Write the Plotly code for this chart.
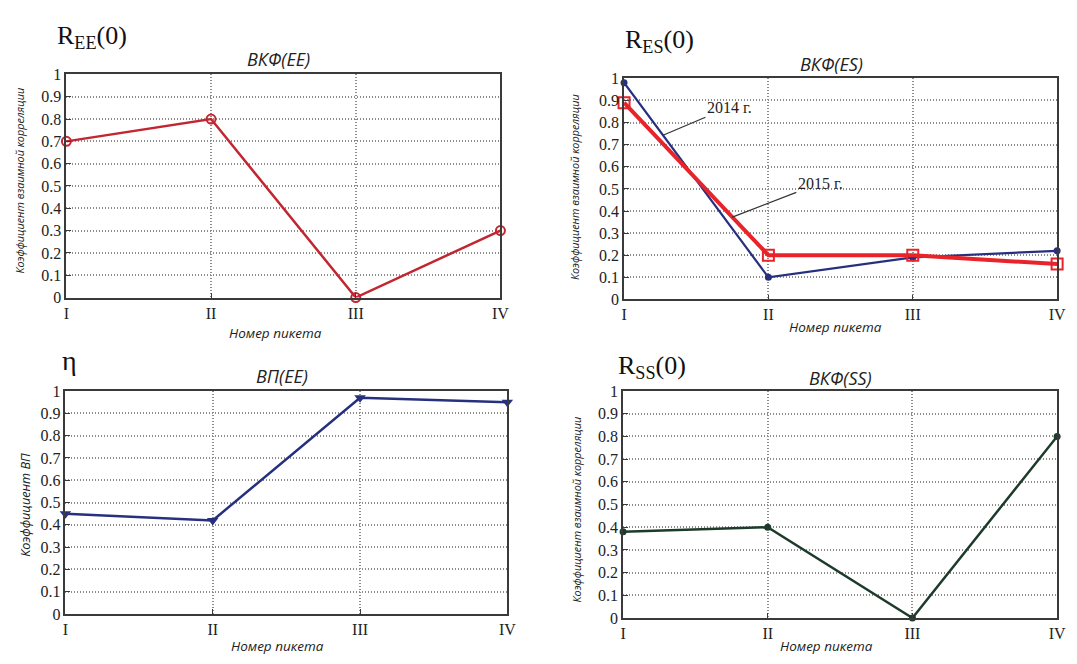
import plotly.graph_objects as go

# ---- data ----
pickets = [1, 2, 3, 4]
picket_labels = ["I", "II", "III", "IV"]
y_ticks = [0, 0.1, 0.2, 0.3, 0.4, 0.5, 0.6, 0.7, 0.8, 0.9, 1]
y_tick_labels = ["0", "0.1", "0.2", "0.3", "0.4", "0.5", "0.6", "0.7", "0.8", "0.9", "1"]

r_ee = [0.70, 0.80, 0.00, 0.30]
r_es_2014 = [0.98, 0.10, 0.19, 0.22]
r_es_2015 = [0.89, 0.20, 0.20, 0.16]
vp_ee = [0.45, 0.42, 0.97, 0.95]
r_ss = [0.38, 0.40, 0.00, 0.80]

# page body has an 8px margin: the figure is drawn 8px right/down of the window corner
OFF = 8
W, H = 1077 - OFF, 664 - OFF


def px(x):
    return (x - OFF) / W


def py(y):
    return 1 - (y - OFF) / H


fig = go.Figure()

# panel domains (window pixel based)
panels = {
    "1": dict(x=(64, 503), y=(68, 297)),
    "2": dict(x=(628, 1066), y=(72, 299)),
    "3": dict(x=(63, 510), y=(393, 622)),
    "4": dict(x=(627, 1066), y=(393, 626)),
}

axis_common = dict(
    showline=True, mirror=True, linecolor="#3a3a3a", linewidth=1.6,
    ticks="inside", ticklen=5, tickcolor="#3a3a3a",
    showgrid=True, gridcolor="#8c8c8c", griddash="1px,2px", gridwidth=1.5,
    zeroline=False, ticklabeloverflow="allow",
    tickfont=dict(family="Liberation Serif", size=16, color="#222222"),
)

layout = {}
for k, p in panels.items():
    suffix = "" if k == "1" else k
    layout["xaxis" + suffix] = dict(
        axis_common,
        domain=[px(p["x"][0]), px(p["x"][1])],
        range=[1, 4], tickvals=pickets, ticktext=picket_labels,
        anchor="y" + suffix,
    )
    layout["yaxis" + suffix] = dict(
        axis_common,
        domain=[py(p["y"][1]), py(p["y"][0])],
        range=[0, 1], tickvals=y_ticks, ticktext=y_tick_labels,
        anchor="x" + suffix,
    )

red = "#c22631"
bright_red = "#e8232a"
navy = "#27307e"
green = "#1d3b2a"

fig.add_trace(go.Scatter(
    x=pickets, y=r_ee, mode="lines+markers", xaxis="x", yaxis="y",
    line=dict(color=red, width=2.5),
    marker=dict(symbol="circle-open", size=9, color=red, line=dict(width=2)),
    cliponaxis=False, showlegend=False))

fig.add_trace(go.Scatter(
    x=pickets, y=r_es_2014, mode="lines+markers", xaxis="x2", yaxis="y2",
    line=dict(color=navy, width=2.2),
    marker=dict(symbol="circle", size=7, color=navy),
    cliponaxis=False, showlegend=False))
fig.add_trace(go.Scatter(
    x=pickets, y=r_es_2015, mode="lines+markers", xaxis="x2", yaxis="y2",
    line=dict(color=bright_red, width=4),
    marker=dict(symbol="square-open", size=11, color=bright_red, line=dict(width=2)),
    cliponaxis=False, showlegend=False))

fig.add_trace(go.Scatter(
    x=pickets, y=vp_ee, mode="lines+markers", xaxis="x3", yaxis="y3",
    line=dict(color=navy, width=2.5),
    marker=dict(symbol="triangle-down", size=10, color=navy),
    cliponaxis=False, showlegend=False))

fig.add_trace(go.Scatter(
    x=pickets, y=r_ss, mode="lines+markers", xaxis="x4", yaxis="y4",
    line=dict(color=green, width=2.5),
    marker=dict(symbol="circle", size=7, color=green),
    cliponaxis=False, showlegend=False))

ann = []


def text(x, y, s, size, family, color="#222", angle=0):
    ann.append(dict(x=px(x), y=py(y), xref="paper", yref="paper", text=s,
                    showarrow=False, textangle=angle,
                    font=dict(size=size, family=family, color=color),
                    xanchor="center", yanchor="middle"))


sans = "Open Sans"
serif = "Liberation Serif"

# titles
text(279, 52, "<i>ВКФ(EE)</i>", 18, sans)
text(838, 57, "<i>ВКФ(ES)</i>", 18, sans)
text(282, 378, "<i>ВП(EE)</i>", 18, sans)
text(847, 380, "<i>ВКФ(SS)</i>", 18, sans)

# big labels
text(90, 30, "R<sub>EE</sub>(0)", 26, serif, "#111")
text(664, 34, "R<sub>ES</sub>(0)", 26, serif, "#111")
text(67, 362, "η", 28, serif, "#111")
text(656, 368, "R<sub>SS</sub>(0)", 26, serif, "#111")

# x axis titles
text(276, 333, "<i>Номер пикета</i>", 13.5, sans)
text(842, 327, "<i>Номер пикета</i>", 13.5, sans)
text(278, 655, "<i>Номер пикета</i>", 13.5, sans)
text(833, 655, "<i>Номер пикета</i>", 13.5, sans)

# y axis titles
text(17, 177, "<i>Коэффициент взаимной корреляции</i>", 10.8, sans, angle=-90)
text(578, 184, "<i>Коэффициент взаимной корреляции</i>", 10.8, sans, angle=-90)
text(22, 510, "<i>Коэффициент ВП</i>", 12.7, sans, angle=-90)
text(580, 515, "<i>Коэффициент взаимной корреляции</i>", 10.8, sans, angle=-90)

# series callouts
x14 = 1.27
ann.append(dict(x=x14, y=r_es_2014[0] + (r_es_2014[1] - r_es_2014[0]) * (x14 - 1),
                xref="x2", yref="y2", text="2014 г.", showarrow=True,
                arrowhead=0, arrowwidth=1.2, arrowcolor="#333",
                ax=66, ay=-28, font=dict(size=16, family=serif, color="#222")))
x15 = 1.75
ann.append(dict(x=x15, y=r_es_2015[0] + (r_es_2015[1] - r_es_2015[0]) * (x15 - 1),
                xref="x2", yref="y2", text="2015 г.", showarrow=True,
                arrowhead=0, arrowwidth=1.2, arrowcolor="#333",
                ax=88, ay=-34, font=dict(size=16, family=serif, color="#222")))

fig.update_layout(
    width=W, height=H,
    margin=dict(l=0, r=0, t=0, b=0),
    paper_bgcolor="white", plot_bgcolor="white",
    annotations=ann,
    **layout,
)

fig.write_html("out.html")
